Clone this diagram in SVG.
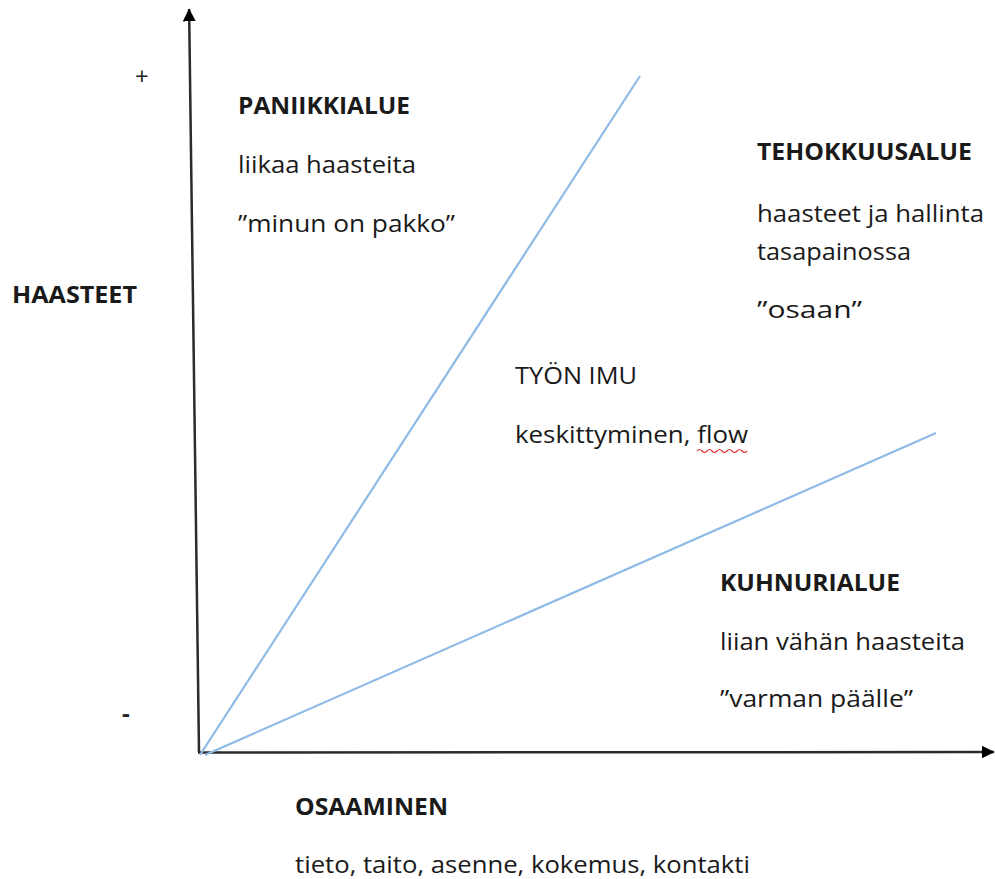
<svg xmlns="http://www.w3.org/2000/svg" width="995" height="879" viewBox="0 0 995 879">
<style>
text{font-family:"Open Sans","Noto Sans","Liberation Sans",sans-serif;font-size:23px;fill:#1a1a1a}
.b{font-weight:bold}
.sign{font-size:24px;fill:#222}
.axis{stroke:#2b2b2b;stroke-width:2.5;fill:none}
.zone{stroke:#8ebbe6;stroke-width:2.2;fill:none}
</style>
<defs>
<marker id="arr" viewBox="0 0 12 12" refX="11.5" refY="6" markerWidth="13" markerHeight="13" markerUnits="userSpaceOnUse" orient="auto">
<path d="M0,0 L12,6 L0,12 z" fill="#000"/>
</marker>
</defs>
<rect width="995" height="879" fill="#fff"/>
<g id="connectors">
<path class="axis" d="M199,752 L189.1,9" marker-end="url(#arr)"/>
<path class="axis" d="M198,752.5 L994,752" marker-end="url(#arr)"/>
<path class="zone" d="M200,755 L640,76"/>
<path class="zone" d="M205,755 L936,433"/>
<path d="M697,451 q2.5,-3 5,0 t5,0 t5,0 t5,0 t5,0 t5,0 t5,0 t5,0 t5,0 t5,0" stroke="#e03030" stroke-width="1.2" fill="none"/>
</g>
<g id="axis-y-labels">
<text class="sign" x="135" y="85">+</text>
<text class="sign b" x="122" y="722">-</text>
<text class="b" x="12" y="303" textLength="125" lengthAdjust="spacingAndGlyphs">HAASTEET</text>
</g>
<g id="paniikkialue">
<text class="b" x="238" y="114" textLength="172" lengthAdjust="spacingAndGlyphs">PANIIKKIALUE</text>
<text x="238" y="173" textLength="178" lengthAdjust="spacingAndGlyphs">liikaa haasteita</text>
<text x="238" y="232" textLength="217" lengthAdjust="spacingAndGlyphs">”minun on pakko”</text>
</g>
<g id="tehokkuusalue">
<text class="b" x="757" y="160" textLength="215" lengthAdjust="spacingAndGlyphs">TEHOKKUUSALUE</text>
<text x="757" y="222" textLength="227" lengthAdjust="spacingAndGlyphs">haasteet ja hallinta</text>
<text x="757" y="260" textLength="154" lengthAdjust="spacingAndGlyphs">tasapainossa</text>
<text x="757" y="318" textLength="105" lengthAdjust="spacingAndGlyphs">”osaan”</text>
</g>
<g id="tyon-imu">
<text x="515" y="384" textLength="122" lengthAdjust="spacingAndGlyphs">TYÖN IMU</text>
<text x="515" y="443" textLength="233" lengthAdjust="spacingAndGlyphs">keskittyminen, flow</text>
</g>
<g id="kuhnurialue">
<text class="b" x="720" y="591" textLength="180" lengthAdjust="spacingAndGlyphs">KUHNURIALUE</text>
<text x="720" y="650" textLength="245" lengthAdjust="spacingAndGlyphs">liian vähän haasteita</text>
<text x="720" y="707" textLength="193" lengthAdjust="spacingAndGlyphs">”varman päälle”</text>
</g>
<g id="osaaminen">
<text class="b" x="295" y="815" textLength="153" lengthAdjust="spacingAndGlyphs">OSAAMINEN</text>
<text x="295" y="873" textLength="455" lengthAdjust="spacingAndGlyphs">tieto, taito, asenne, kokemus, kontakti</text>
</g>
</svg>
